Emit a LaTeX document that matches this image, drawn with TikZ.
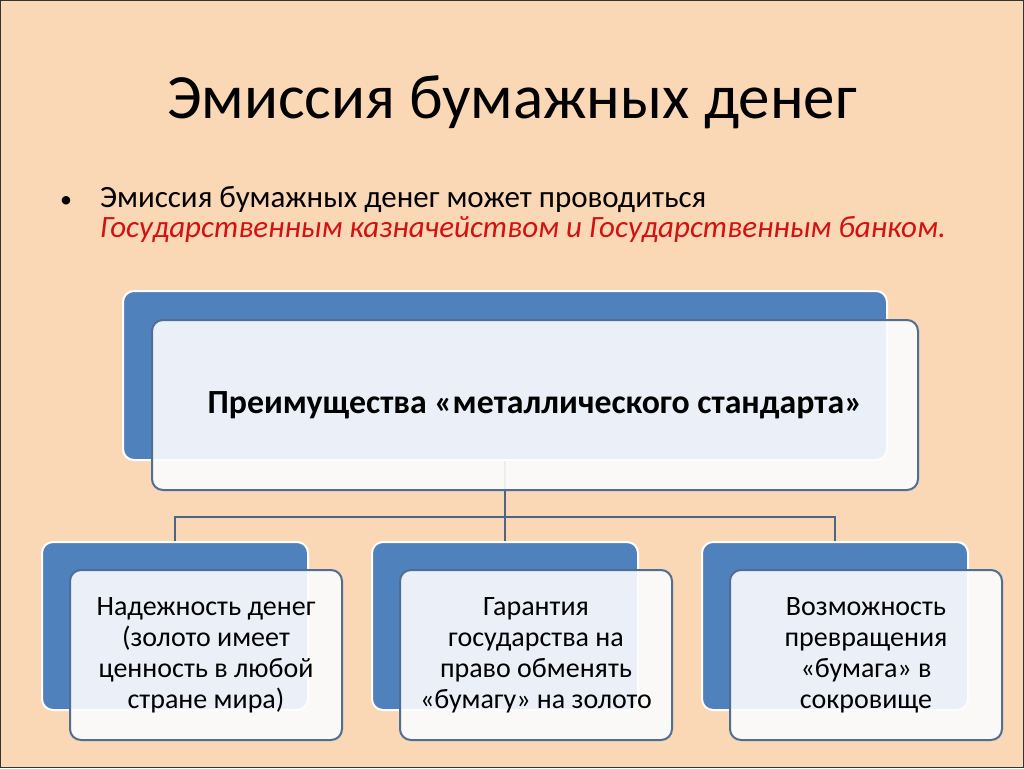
\documentclass[tikz,border=0pt]{standalone}
\usepackage{fontspec}
\setmainfont{Carlito}
\usetikzlibrary{positioning}

\definecolor{slidebg}{RGB}{250,215,181}
\definecolor{accent}{RGB}{79,129,189}
\definecolor{framecol}{RGB}{80,110,148}
\definecolor{paleblue}{RGB}{252,253,255}
\definecolor{linkcol}{RGB}{74,101,135}
\definecolor{redtext}{RGB}{210,18,18}

\begin{document}
\begin{tikzpicture}[x=1pt,y=-1pt,
    backbox/.style={draw=white, line width=2pt, fill=accent, rounded corners=11pt, inner sep=0pt},
    frontbox/.style={draw=framecol, line width=2pt, fill=paleblue, fill opacity=0.9, text opacity=1,
                     rounded corners=11pt, inner sep=0pt, align=center},
    leaf/.style={frontbox, minimum width=272pt, minimum height=170pt, font=\fontsize{28}{31}\selectfont},
    link/.style={draw=linkcol, line width=2pt}]
        % slide
        \fill[slidebg] (0,0) rectangle (1024,768);
        \draw[black!80, line width=1.2pt] (0.6,0.6) rectangle (1023.4,767.4);
        \useasboundingbox (0,0) rectangle (1024,768);

        \node[anchor=base] (title) at (512,118) {\fontsize{63}{75}\selectfont Эмиссия бумажных денег};
        \node[anchor=base] (dot) at (66,207) {\fontsize{24}{30}\selectfont •};
        \node[anchor=base west, inner sep=0pt] (lead) at (100,207)
            {\fontsize{31}{30}\selectfont Эмиссия бумажных денег может проводиться};
        \node[anchor=base west, inner sep=0pt, color=redtext] (issuers) at (100,237)
            {\fontsize{31}{30}\selectfont\itshape Государственным казначейством и Государственным банком.};

        % back boxes
        \node[backbox, minimum width=764pt, minimum height=169pt] (topback) at (505,375.5) {};
        \node[backbox, minimum width=266pt, minimum height=168pt] (reliback) at (175,626) {};
        \node[backbox, minimum width=266pt, minimum height=168pt] (guarback) at (505,626) {};
        \node[backbox, minimum width=266pt, minimum height=168pt] (treaback) at (835,626) {};

        % tree lines
        \coordinate (bus) at ([yshift=-56pt]topback.south);
        \draw[link] (topback.south) -- (guarback.north);
        \draw[link] (bus) -| (reliback.north);
        \draw[link] (bus) -| (treaback.north);

        % front boxes
        \node[frontbox, minimum width=766pt, minimum height=170pt,
              font=\fontsize{33.8}{40}\selectfont\bfseries] (topfront)
            at ([shift={(30pt,-29.5pt)}]topback.center)
            {Преимущества «металлического стандарта»};
        \node[leaf] (reliable) at ([shift={(31pt,-29pt)}]reliback.center)
            {Надежность денег\\(золото имеет\\ценность в любой\\стране мира)};
        \node[leaf] (guarantee) at ([shift={(31pt,-29pt)}]guarback.center)
            {Гарантия\\государства на\\право обменять\\«бумагу» на золото};
        \node[leaf] (treasure) at ([shift={(31pt,-29pt)}]treaback.center)
            {Возможность\\превращения\\«бумага» в\\сокровище};
\end{tikzpicture}
\end{document}
